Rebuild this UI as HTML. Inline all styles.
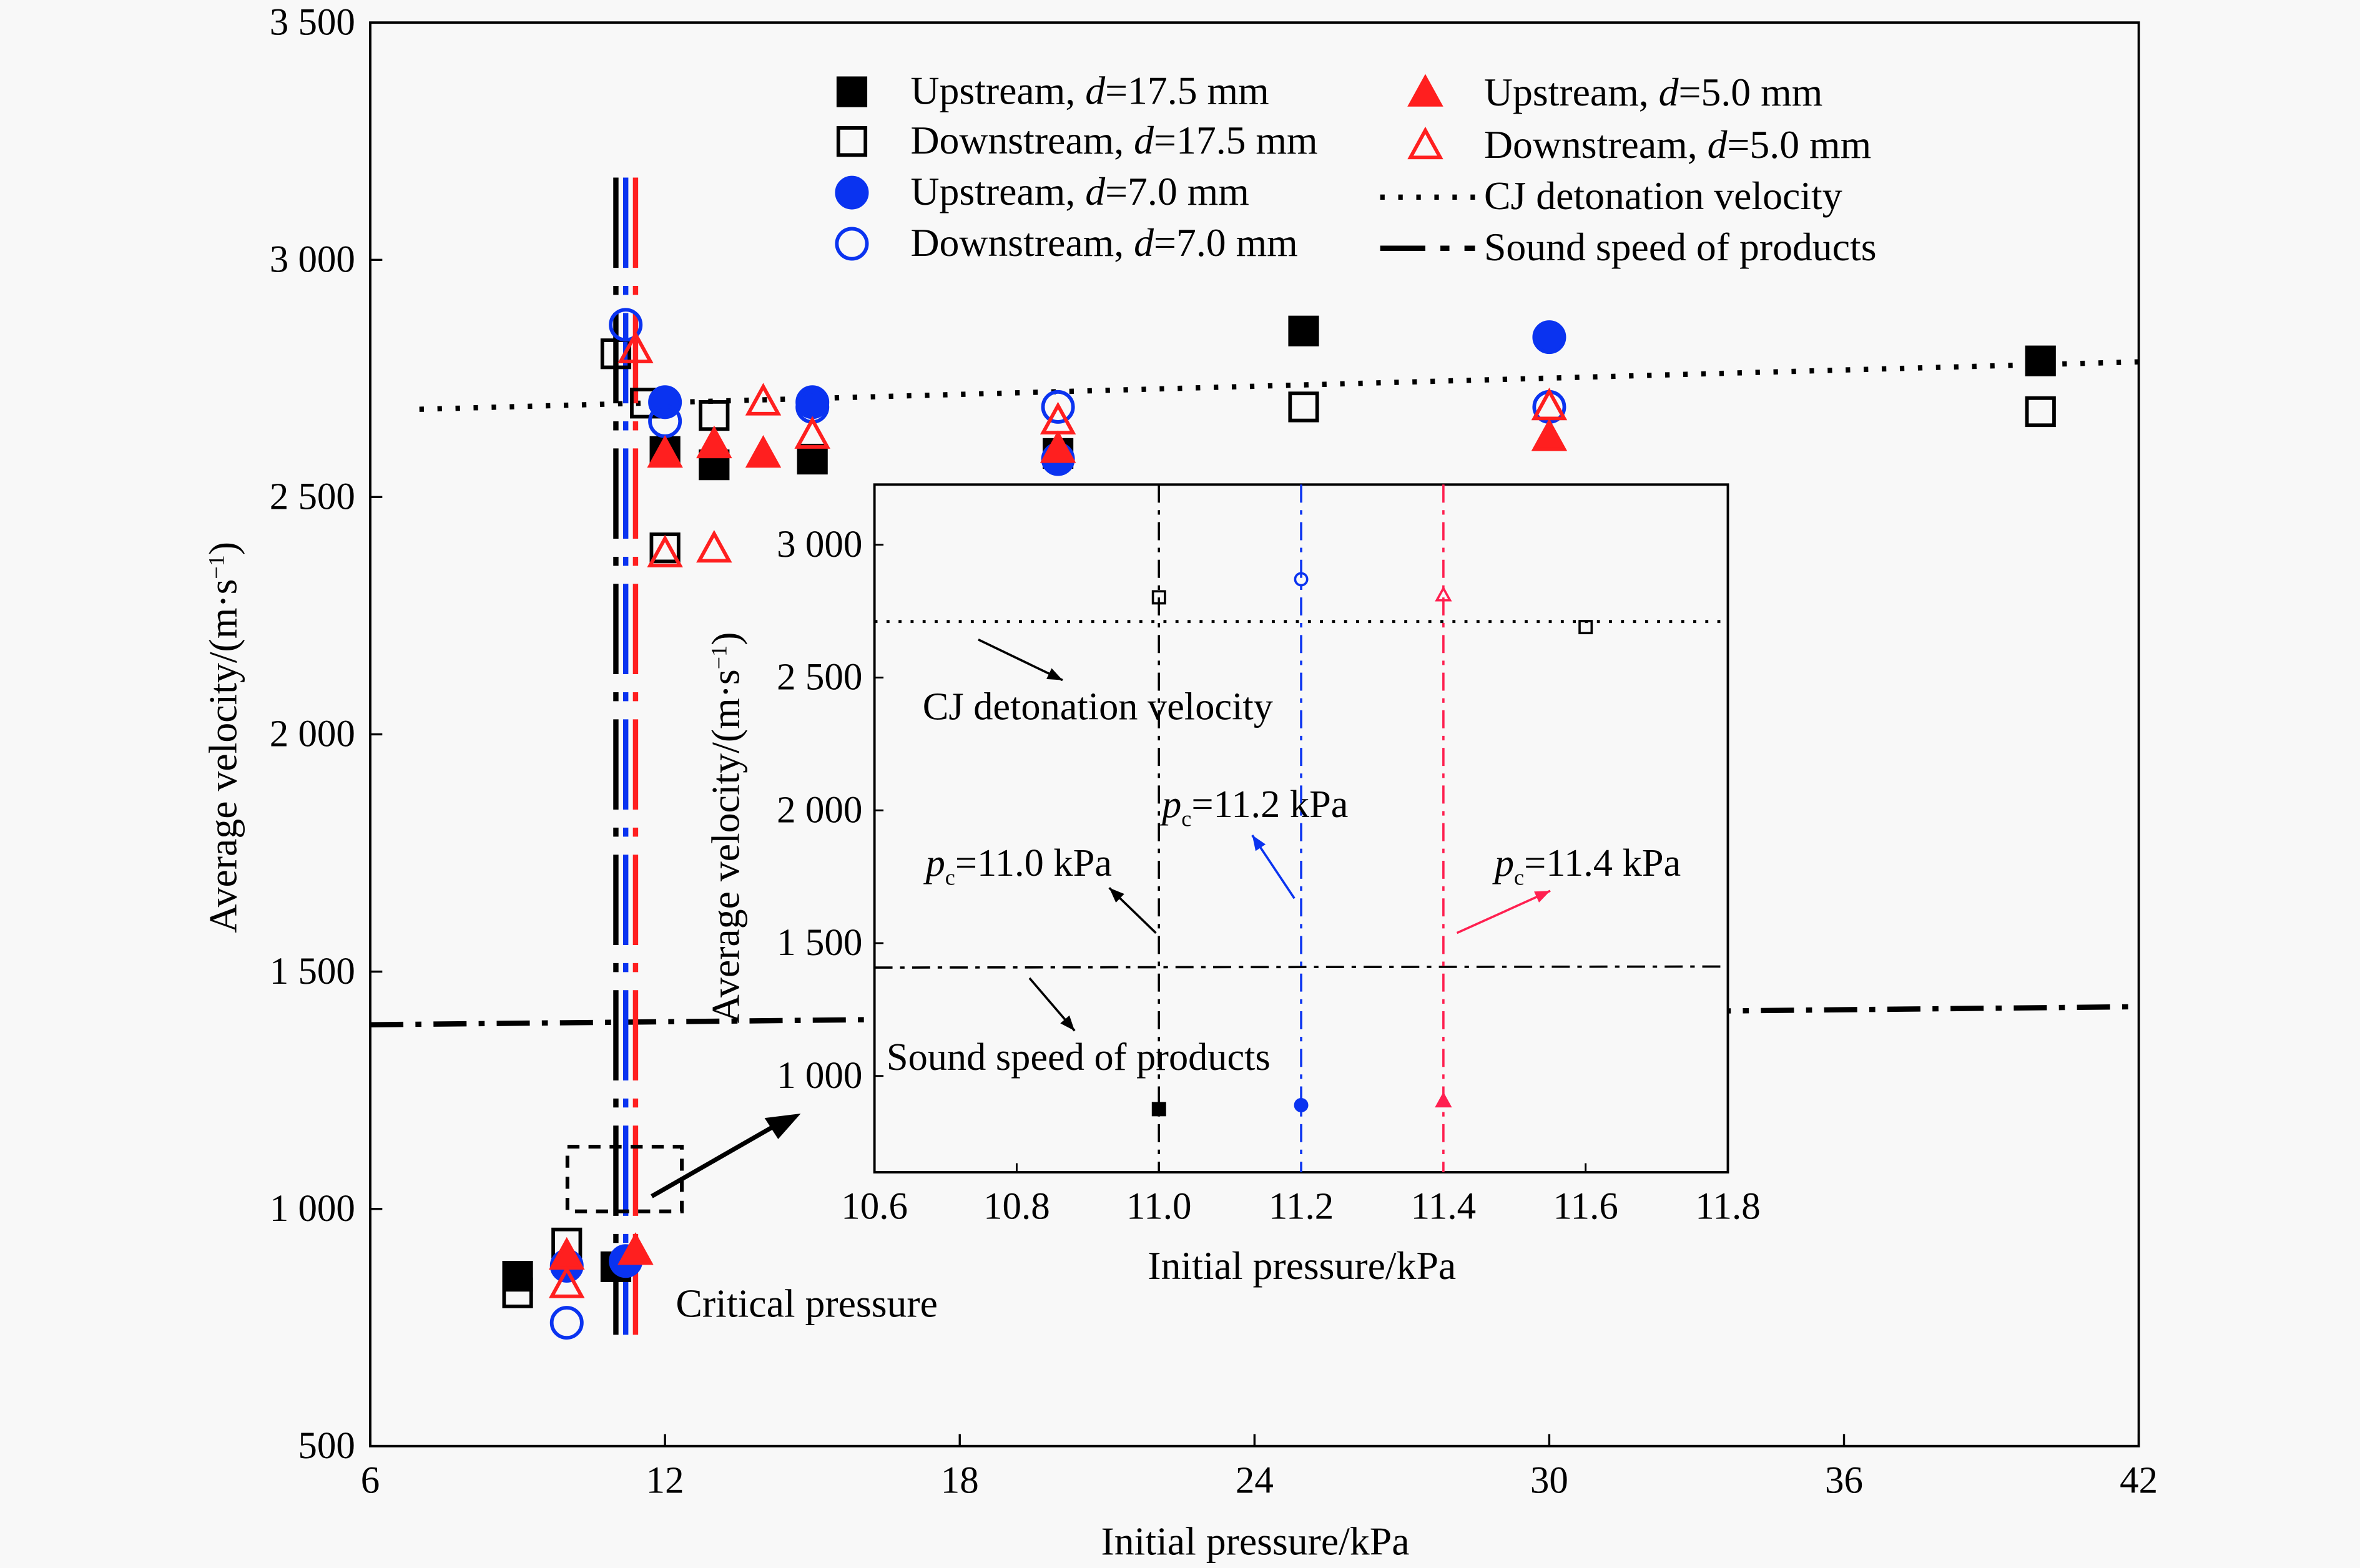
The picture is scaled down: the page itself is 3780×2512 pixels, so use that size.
<!DOCTYPE html>
<html><head><meta charset="utf-8"><style>
html,body{margin:0;padding:0;background:#f8f8f8;}
svg{display:block;font-family:"Liberation Serif",serif;}
</style></head><body>
<svg id="chart" width="3780" height="2512" viewBox="0 0 1568 1042" preserveAspectRatio="none" xmlns="http://www.w3.org/2000/svg">
<rect x="0" y="0" width="1568" height="1042" fill="#f8f8f8"/>
<g id="main"></g>
<g id="inset"></g>
</svg>
<script>
const xTicks=[6,12,18,24,30,36,42];
const yTicks=[500,1000,1500,2000,2500,3000,3500];
const yTickLabels=["500","1 000","1 500","2 000","2 500","3 000","3 500"];
const upX175=[9,11,12,13,15,20,25,40];
const upY175=[858,878,2596,2568,2580,2592,2850,2787];
const dnX175=[9,10,11,11.6,12,13,25,40];
const dnY175=[823,928,2802,2698,2393,2672,2690,2680];
const upX70=[10,11.2,12,15,20,30];
const upY70=[880,890,2700,2700,2580,2837];
const dnX70=[10,11.2,12,15,20,30];
const dnY70=[760,2863,2660,2690,2690,2690];
const upX50=[10,11.4,12,13,14,20,30];
const upY50=[900,910,2590,2610,2590,2600,2625];
const dnX50=[10,11.4,12,13,14,15,20,30];
const dnY50=[840,2810,2380,2390,2700,2630,2660,2690];
const cjX=[7,42]; const cjY=[2685,2785];
const ssX=[6,42]; const ssY=[1388,1426];
const critP=[11.0,11.2,11.4];
const inXTicks=[10.6,10.8,11.0,11.2,11.4,11.6,11.8];
const inYTicks=[1000,1500,2000,2500,3000];
const inYTickLabels=["1 000","1 500","2 000","2 500","3 000"];
const inUp175X=[11.0]; const inUp175Y=[875];
const inDn175X=[11.0,11.6]; const inDn175Y=[2802,2690];
const inUp70X=[11.2]; const inUp70Y=[890];
const inDn70X=[11.2]; const inDn70Y=[2870];
const inUp50X=[11.4]; const inUp50Y=[905];
const inDn50X=[11.4]; const inDn50Y=[2810];
const inCjY=[2711,2711]; const inSsY=[1408,1412];

const NS="http://www.w3.org/2000/svg";
const BLUE="#0a33f0", RED="#ff1f1f";
const FS=1.15;
function mk(parent,tag,attrs){const e=document.createElementNS(NS,tag);for(const k in attrs)e.setAttribute(k,attrs[k]);parent.appendChild(e);return e;}
const main=document.getElementById('main'), inset=document.getElementById('inset');
const X=v=>246+(v-6)*1175/36, Y=v=>961-(v-500)*946/3000;
const IX=v=>581+(v-10.6)*567/1.2, IY=v=>715-(v-1000)*0.1765;

function marker(g,type,x,y,color,fill,s,name){
  let e;
  if(type==='sq') e=mk(g,'rect',{x:x-s,y:y-s,width:2*s,height:2*s});
  else if(type==='ci') e=mk(g,'circle',{cx:x,cy:y,r:s});
  else e=mk(g,'polygon',{points:`${x},${y-s*1.15} ${x-s*1.1},${y+s*0.85} ${x+s*1.1},${y+s*0.85}`});
  e.setAttribute('fill',fill?color:'none');e.setAttribute('stroke',color);e.setAttribute('stroke-width',s>6?2.4:1.5);
  
  
}
function text(g,x,y,str,size,anchor,name,extra){const t=mk(g,'text',Object.assign({x:x,y:y,'font-size':size*FS,'text-anchor':anchor||'start',fill:'#000'},extra||{}));t.innerHTML=str;
  
  
  return t;}

const frame=mk(main,'rect',{x:246,y:15,width:1175,height:946,fill:'none',stroke:'#000','stroke-width':1.6});


xTicks.forEach(v=>{const l=mk(main,'line',{x1:X(v),x2:X(v),y1:961,y2:953,stroke:'#000','stroke-width':1.4});
 
 
 text(main,X(v),992,String(v),22,'middle','x-tick-label');});
yTicks.forEach((v,i)=>{const l=mk(main,'line',{x1:246,x2:254,y1:Y(v),y2:Y(v),stroke:'#000','stroke-width':1.4});
 
 
 text(main,236,Y(v)+8,yTickLabels[i],22,'end','y-tick-label');});
text(main,834,1033,'Initial pressure/kPa',23,'middle','x-axis-title');
text(main,0,0,'Average velocity/(m·s<tspan baseline-shift="super" font-size="15">−1</tspan>)',23,'middle','y-axis-title',{transform:'translate(157,490) rotate(-90)'});

let l=mk(main,'line',{x1:X(cjX[0]),x2:X(cjX[1]),y1:Y(cjY[0]),y2:Y(cjY[1]),stroke:'#000','stroke-width':3.5,'stroke-dasharray':'3,9'});


l=mk(main,'line',{x1:X(ssX[0]),x2:X(ssX[1]),y1:Y(ssY[0]),y2:Y(ssY[1]),stroke:'#000','stroke-width':3.5,'stroke-dasharray':'22,8,4,8'});


[['#000'],[BLUE],[RED]].forEach((c,i)=>{
 const xx=X(critP[i]);
 const v=mk(main,'line',{x1:xx,x2:xx,y1:118,y2:887,stroke:c[0],'stroke-width':3.5,'stroke-dasharray':'60,12,6,12'});
 
 
});
const series=[[upX175,upY175,'sq','#000',true,'upstream-17-5'],[dnX175,dnY175,'sq','#000',false,'downstream-17-5'],
[upX70,upY70,'ci',BLUE,true,'upstream-7-0'],[dnX70,dnY70,'ci',BLUE,false,'downstream-7-0'],
[upX50,upY50,'tr',RED,true,'upstream-5-0'],[dnX50,dnY50,'tr',RED,false,'downstream-5-0']];
series.forEach(s=>s[0].forEach((x,i)=>marker(main,s[2],X(x),Y(s[1][i]),s[3],s[4],s[2]==='ci'?10:9,s[5]+'-point')));

l=mk(main,'rect',{x:377,y:762,width:76,height:43,fill:'none',stroke:'#000','stroke-width':2.5,'stroke-dasharray':'8,6'});


l=mk(main,'line',{x1:433,x2:515,y1:795,y2:748,stroke:'#000','stroke-width':3});


l=mk(main,'polygon',{points:'532,740 508,743 517,757',fill:'#000'});


text(main,449,875,'Critical pressure',23,'start','critical-pressure-label');

const leg=[[566,61,'sq','#000',true,'Upstream, <tspan font-style="italic">d</tspan>=17.5 mm'],
[566,94,'sq','#000',false,'Downstream, <tspan font-style="italic">d</tspan>=17.5 mm'],
[566,128,'ci',BLUE,true,'Upstream, <tspan font-style="italic">d</tspan>=7.0 mm'],
[566,162,'ci',BLUE,false,'Downstream, <tspan font-style="italic">d</tspan>=7.0 mm'],
[947,62,'tr',RED,true,'Upstream, <tspan font-style="italic">d</tspan>=5.0 mm'],
[947,97,'tr',RED,false,'Downstream, <tspan font-style="italic">d</tspan>=5.0 mm']];
leg.forEach(e=>{marker(main,e[2],e[0],e[1],e[3],e[4],e[2]==='ci'?10:9,'legend-marker');text(main,e[0]+39,e[1]+8,e[5],23,'start','legend-label');});
l=mk(main,'line',{x1:917,x2:980,y1:131,y2:131,stroke:'#000','stroke-width':3.5,'stroke-dasharray':'3,9'});


text(main,986,139,'CJ detonation velocity',23,'start','legend-label');
l=mk(main,'line',{x1:917,x2:980,y1:165,y2:165,stroke:'#000','stroke-width':3.5,'stroke-dasharray':'30,10,6,10'});


text(main,986,173,'Sound speed of products',23,'start','legend-label');

l=mk(inset,'rect',{x:581,y:322,width:567,height:457,fill:'#f8f8f8',stroke:'#000','stroke-width':1.6});


inXTicks.forEach(v=>{const t=mk(inset,'line',{x1:IX(v),x2:IX(v),y1:779,y2:773,stroke:'#000','stroke-width':1.2});
 
 
 text(inset,IX(v),810,v.toFixed(1),22,'middle','inset-x-tick-label');});
inYTicks.forEach((v,i)=>{const t=mk(inset,'line',{x1:581,x2:587,y1:IY(v),y2:IY(v),stroke:'#000','stroke-width':1.2});
 
 
 text(inset,573,IY(v)+8,inYTickLabels[i],22,'end','inset-y-tick-label');});
text(inset,865,850,'Initial pressure/kPa',23,'middle','inset-x-axis-title');
text(inset,0,0,'Average velocity/(m·s<tspan baseline-shift="super" font-size="15">−1</tspan>)',23,'middle','inset-y-axis-title',{transform:'translate(491,550) rotate(-90)'});
l=mk(inset,'line',{x1:581,x2:1148,y1:IY(inCjY[0]),y2:IY(inCjY[1]),stroke:'#000','stroke-width':2,'stroke-dasharray':'2,6'});


l=mk(inset,'line',{x1:581,x2:1148,y1:IY(inSsY[0]),y2:IY(inSsY[1]),stroke:'#000','stroke-width':1.5,'stroke-dasharray':'12,5,3,5'});


[['#000'],[BLUE],['#ff2050']].forEach((c,i)=>{
 const t=mk(inset,'line',{x1:IX(critP[i]),x2:IX(critP[i]),y1:322,y2:779,stroke:c[0],'stroke-width':1.5,'stroke-dasharray':'12,5,3,5'});
 
 
});
const inSeries=[[inUp175X,inUp175Y,'sq','#000',true],[inDn175X,inDn175Y,'sq','#000',false],[inUp70X,inUp70Y,'ci',BLUE,true],[inDn70X,inDn70Y,'ci',BLUE,false],[inUp50X,inUp50Y,'tr','#ff2050',true],[inDn50X,inDn50Y,'tr','#ff2050',false]];
inSeries.forEach(s=>s[0].forEach((x,i)=>marker(inset,s[2],IX(x),IY(s[1][i]),s[3],s[4],4,'inset-point')));
function arrow(x1,y1,x2,y2,c,name){const t=mk(inset,'line',{x1:x1,y1:y1,x2:x2,y2:y2,stroke:c,'stroke-width':1.5});
 
 
 const a=Math.atan2(y2-y1,x2-x1),L=10,W=4;
 const p=mk(inset,'polygon',{points:`${x2},${y2} ${x2-L*Math.cos(a)+W*Math.sin(a)},${y2-L*Math.sin(a)-W*Math.cos(a)} ${x2-L*Math.cos(a)-W*Math.sin(a)},${y2-L*Math.sin(a)+W*Math.cos(a)}`,fill:c});
 
 }
arrow(650,425,706,452,'#000','cj-arrow');
arrow(684,650,714,685,'#000','sound-arrow');
arrow(768,620,737,590,'#000','pc110-arrow');
arrow(860,597,832,555,BLUE,'pc112-arrow');
arrow(968,620,1030,592,'#ff2050','pc114-arrow');
text(inset,613,478,'CJ detonation velocity',22.5,'start','inset-cj-label');
text(inset,589,711,'Sound speed of products',22.5,'start','inset-sound-label');
text(inset,615,582,'<tspan font-style="italic">p</tspan><tspan font-size="15" dy="6">c</tspan><tspan dy="-6">=11.0 kPa</tspan>',22.5,'start','pc-11-0-label');
text(inset,772,543,'<tspan font-style="italic">p</tspan><tspan font-size="15" dy="6">c</tspan><tspan dy="-6">=11.2 kPa</tspan>',22.5,'start','pc-11-2-label');
text(inset,993,582,'<tspan font-style="italic">p</tspan><tspan font-size="15" dy="6">c</tspan><tspan dy="-6">=11.4 kPa</tspan>',22.5,'start','pc-11-4-label');
</script>
</body></html>
